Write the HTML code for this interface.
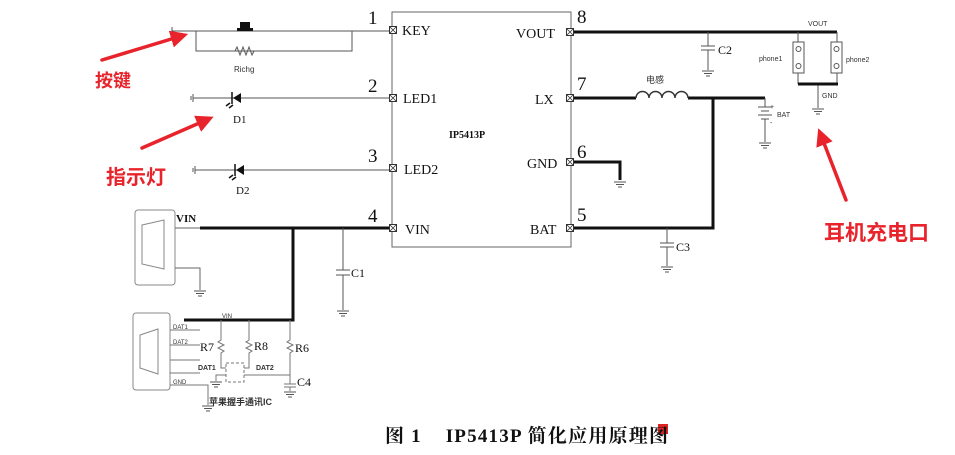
<!DOCTYPE html>
<html><head><meta charset="utf-8"><style>
html,body{margin:0;padding:0;background:#fff;}
svg{display:block}
.t{font-family:"Liberation Serif","Noto Serif CJK SC",serif;fill:#111}
.s{font-family:"Liberation Sans","Noto Sans CJK SC",sans-serif;fill:#333}
.r{font-family:"Liberation Sans","Noto Sans CJK SC",sans-serif;fill:#e8232b;font-weight:bold}
</style></head><body>
<svg width="955" height="455" viewBox="0 0 955 455" xmlns="http://www.w3.org/2000/svg">
<defs>
<g id="pin"><rect x="-3.5" y="-3.5" width="7" height="7" fill="#fff" stroke="#333" stroke-width="1"/><path d="M-3.5,-3.5L3.5,3.5M3.5,-3.5L-3.5,3.5" stroke="#333" stroke-width="0.8"/></g>
<g id="gnd" stroke="#555" stroke-width="1"><path d="M-6,0H6M-4,2.5H4M-2,5H2"/></g>
<marker id="ah" markerWidth="5" markerHeight="5" refX="2" refY="2.5" orient="auto" markerUnits="strokeWidth"><path d="M0,0L5,2.5L0,5z" fill="#e8232b"/></marker>
</defs>

<rect x="392" y="12" width="179" height="235" fill="none" stroke="#666" stroke-width="1"/>
<use href="#pin" x="393" y="30"/><use href="#pin" x="393" y="98"/><use href="#pin" x="393" y="168"/><use href="#pin" x="393" y="228"/>
<use href="#pin" x="570" y="32"/><use href="#pin" x="570" y="98"/><use href="#pin" x="570" y="162"/><use href="#pin" x="570" y="228"/>
<g class="t" font-size="14">
<text x="402" y="35">KEY</text><text x="403" y="103">LED1</text><text x="404" y="174">LED2</text><text x="405" y="234">VIN</text>
<text x="516" y="38">VOUT</text><text x="535" y="104">LX</text><text x="527" y="168">GND</text><text x="530" y="234">BAT</text>
</g>
<text x="449" y="138" class="t" font-size="10" font-weight="bold">IP5413P</text>
<g class="t" font-size="19">
<text x="368" y="24">1</text><text x="368" y="92">2</text><text x="368" y="162">3</text><text x="368" y="222">4</text>
<text x="577" y="23">8</text><text x="577" y="90">7</text><text x="577" y="158">6</text><text x="577" y="221">5</text>
</g>

<g stroke="#555" stroke-width="1" fill="none">
<path d="M172,31H389"/><path d="M172,27V35"/>
<path d="M196,31V51H352V31"/>
<path d="M196,51H235l2,-4l3,8l3,-8l3,8l3,-8l3,8l2,-4H352"/>
<path d="M193,98H389M193,94V102M191,96V100"/>
<path d="M195,170H389M195,166V174M193,168V172"/>
</g>
<rect x="240" y="22" width="10" height="6" fill="#111"/><rect x="237" y="28" width="16" height="3" fill="#111"/>
<text x="234" y="72" class="s" font-size="8">Richg</text>
<path d="M233,98l8,-5v10z" fill="#111"/><path d="M232,92v12" stroke="#111" stroke-width="1.5"/>
<path d="M229,108l4,-3M226,106l4,-3" stroke="#111" stroke-width="1.5"/>
<text x="233" y="123" class="t" font-size="11">D1</text>
<path d="M236,170l8,-5v10z" fill="#111"/><path d="M235,164v12" stroke="#111" stroke-width="1.5"/>
<path d="M232,180l4,-3M229,178l4,-3" stroke="#111" stroke-width="1.5"/>
<text x="236" y="194" class="t" font-size="11">D2</text>

<rect x="135" y="210" width="40" height="75" rx="3" fill="none" stroke="#888"/>
<path d="M142,225l22,-5v49l-22,-5z" fill="none" stroke="#888"/>
<text x="176" y="222" class="t" font-size="11" font-weight="bold">VIN</text>
<path d="M175,228H200M175,268H200V290" stroke="#666" fill="none"/>
<use href="#gnd" x="200" y="291"/>
<path d="M200,228H389M293,228V320H184" stroke="#111" stroke-width="3" fill="none"/>
<path d="M343,228V270M343,275V310M336,270H350M336,275H350" stroke="#555" fill="none"/>
<use href="#gnd" x="343" y="311"/>
<text x="351" y="277" class="t" font-size="12">C1</text>

<rect x="133" y="313" width="37" height="77" rx="3" fill="none" stroke="#888"/>
<path d="M140,335l18,-6v45l-18,-6z" fill="none" stroke="#888"/>
<g stroke="#777" fill="none"><path d="M170,330H200M170,345H200M170,360H200M170,373H200M170,385H208V405"/>
<path d="M221,320V340l-3,2l6,3l-6,3l6,3l-3,2V360M249,320V340l-3,2l6,3l-6,3l6,3l-3,2V360M290,320V340l-3,2l6,3l-6,3l6,3l-3,2V382"/>
<path d="M221,360V368H226M249,360V368H244M244,375H290M290,382V384M284,384H296M284,387H296M290,387V391M226,375H216V381"/>
<rect x="226" y="363" width="18" height="19" stroke-dasharray="3,2"/></g>
<use href="#gnd" x="208" y="406"/><use href="#gnd" x="290" y="392"/><use href="#gnd" x="216" y="382"/>
<g class="s" font-size="6" fill="#777"><text x="173" y="329">DAT1</text><text x="173" y="344">DAT2</text><text x="173" y="384">GND</text><text x="222" y="318">VIN</text></g>
<g class="t" font-size="12"><text x="200" y="351">R7</text><text x="254" y="350">R8</text><text x="295" y="352">R6</text><text x="297" y="386">C4</text></g>
<g class="s" font-size="7" font-weight="bold" fill="#111"><text x="198" y="370">DAT1</text><text x="256" y="370">DAT2</text></g>
<text x="209" y="405" class="s" font-size="9" font-weight="bold" fill="#111">苹果握手通讯IC</text>

<path d="M574,32H837M574,98H636M688,98H765M713,98V228H574M574,162H620V180" stroke="#111" stroke-width="3" fill="none"/>
<path d="M636,98a6.5,6.5 0 0 1 13,0a6.5,6.5 0 0 1 13,0a6.5,6.5 0 0 1 13,0a6.5,6.5 0 0 1 13,0" stroke="#333" stroke-width="1.5" fill="none"/>
<text x="646" y="83" class="s" font-size="9" fill="#666">电感</text>
<use href="#gnd" x="620" y="182"/>
<path d="M708,32V46M701,46H715M701,50H715M708,50V70" stroke="#555" fill="none"/>
<use href="#gnd" x="708" y="71"/>
<text x="718" y="54" class="t" font-size="12">C2</text>
<path d="M667,228V243M660,243H674M660,247H674M667,247V266" stroke="#555" fill="none"/>
<use href="#gnd" x="667" y="267"/>
<text x="676" y="251" class="t" font-size="12">C3</text>
<path d="M765,98V107M758,107H772M761,111H769M758,115H772M761,119H769M765,119V142" stroke="#555" fill="none"/>
<use href="#gnd" x="765" y="143"/>
<text x="770" y="109" class="s" font-size="7">+</text><text x="770" y="125" class="s" font-size="7">-</text>
<text x="777" y="117" class="s" font-size="7">BAT</text>
<text x="808" y="26" class="s" font-size="7">VOUT</text>
<path d="M798,32V42M837,32V42M798,73V84M837,73V84M818,84V108" stroke="#555" fill="none"/>
<path d="M798,84H838" stroke="#111" stroke-width="3"/>
<rect x="793" y="42" width="11" height="31" fill="#fff" stroke="#555"/>
<rect x="831" y="42" width="11" height="31" fill="#fff" stroke="#555"/>
<circle cx="798.5" cy="49" r="2.5" fill="#fff" stroke="#555"/><circle cx="798.5" cy="66" r="2.5" fill="#fff" stroke="#555"/>
<circle cx="836.5" cy="49" r="2.5" fill="#fff" stroke="#555"/><circle cx="836.5" cy="66" r="2.5" fill="#fff" stroke="#555"/>
<text x="759" y="61" class="s" font-size="7">phone1</text><text x="846" y="62" class="s" font-size="7">phone2</text>
<text x="822" y="98" class="s" font-size="7">GND</text>
<use href="#gnd" x="818" y="109"/>

<g stroke="#e8232b" stroke-width="3.5" fill="none" stroke-linecap="round">
<path d="M102,60L178,37" marker-end="url(#ah)"/>
<path d="M142,148L204,121" marker-end="url(#ah)"/>
<path d="M846,200L822,138" marker-end="url(#ah)"/>
</g>
<text x="95" y="87" class="r" font-size="18">按键</text>
<text x="106" y="184" class="r" font-size="20">指示灯</text>
<text x="824" y="240" class="r" font-size="21">耳机充电口</text>

<rect x="658" y="424" width="10" height="10" fill="#d22"/>
<text x="385" y="442" class="t" font-size="19" font-weight="bold" textLength="283" lengthAdjust="spacing" xml:space="preserve">图 1    IP5413P 简化应用原理图</text>
</svg>
</body></html>
